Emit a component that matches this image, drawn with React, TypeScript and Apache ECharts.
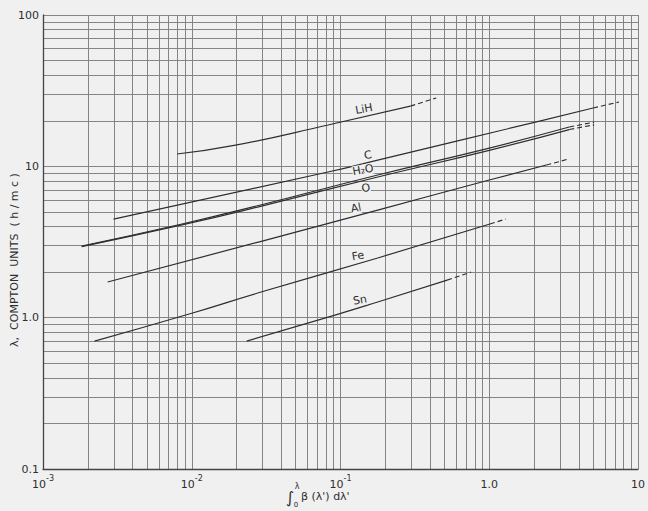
import React, { useEffect, useRef } from "react";
import * as echarts from "echarts";

// Tick values and labels (base, exponent)
const xTickValues = [0.001, 0.01, 0.1, 1, 10];
const xTickBases = ["10", "10", "10", "1.0", "10"];
const xTickExps = ["-3", "-2", "-1", "", ""];
const yTickValues = [0.1, 1, 10, 100];
const yTickLabels = ["0.1", "1.0", "10", "100"];

// Curves [x, y] (solid part) and dashed extrapolations
const lihSolid = [[0.00796, 12.06], [0.0197, 13.8], [0.0824, 18.75], [0.295, 25.0]];
const lihDashed = [[0.295, 25.0], [0.44, 28.3]];
const cSolid = [[0.00298, 4.48], [0.0824, 9.17], [0.178, 11.0], [2.18, 19.9], [4.99, 24.3]];
const cDashed = [[4.99, 24.3], [7.45, 26.6]];
const h2oSolid = [[0.00182, 2.97], [0.0086, 4.16], [0.0281, 5.51], [0.178, 8.76], [1.0, 13.2], [3.45, 18.2]];
const h2oDashed = [[3.45, 18.2], [5.07, 19.6]];
const oSolid = [[0.00182, 2.95], [0.0086, 4.1], [0.0281, 5.4], [0.178, 8.5], [1.0, 12.75], [3.45, 17.5]];
const oDashed = [[3.45, 17.5], [5.07, 18.8]];
const alSolid = [[0.00272, 1.72], [0.0281, 3.16], [0.178, 5.14], [1.0, 8.12], [2.42, 10.2]];
const alDashed = [[2.42, 10.2], [3.45, 11.2]];
const feSolid = [[0.00222, 0.7], [0.01, 1.07], [0.0281, 1.46], [0.178, 2.48], [1.01, 4.16]];
const feDashed = [[1.01, 4.16], [1.29, 4.48]];
const snSolid = [[0.0234, 0.7], [0.0918, 1.04], [0.178, 1.27], [0.521, 1.77]];
const snDashed = [[0.521, 1.77], [0.753, 2.0]];

const curveLabels = [
  { text: "LiH", x: 364, y: 109 },
  { text: "C", x: 368, y: 155 },
  { text: "H₂O", x: 363, y: 170 },
  { text: "O", x: 366, y: 188 },
  { text: "Al", x: 356, y: 208 },
  { text: "Fe", x: 358, y: 256 },
  { text: "Sn", x: 360, y: 300 },
];

const FONT = "DejaVu Sans";
const INK = "#2e2e2e";

function tickIndex(values: number[], v: number) {
  const lv = Math.log10(v);
  for (let i = 0; i < values.length; i++) {
    if (Math.abs(Math.log10(values[i]) - lv) < 1e-6) return i;
  }
  return -1;
}

export default function App() {
  const ref = useRef<HTMLDivElement>(null);
  useEffect(() => {
    if (!ref.current) return;
    const chart = echarts.init(ref.current, null, { renderer: "svg" });
    const solid = (data: number[][]) => ({
      type: "line",
      data,
      smooth: true,
      symbol: "none",
      silent: true,
      lineStyle: { color: INK, width: 1.2 },
    });
    const dashed = (data: number[][]) => ({
      type: "line",
      data,
      smooth: false,
      symbol: "none",
      silent: true,
      lineStyle: { color: INK, width: 1.1, type: [5, 3] },
    });
    const gridLine = { color: "#858585", width: 1 };
    chart.setOption({
      animation: false,
      backgroundColor: "#f0f0f0",
      grid: { left: 43, top: 15, right: 5, bottom: 42, containLabel: false },
      xAxis: {
        type: "log",
        logBase: 10,
        min: 0.001,
        max: 10,
        splitNumber: 4,
        axisLine: { show: true, lineStyle: { color: "#444", width: 1.3 } },
        axisTick: { show: false },
        axisLabel: {
          margin: 5,
          color: INK,
          fontFamily: FONT,
          fontSize: 11,
          formatter: (v: number) => {
            const i = tickIndex(xTickValues, v);
            if (i < 0) return "";
            return xTickExps[i]
              ? `{b|${xTickBases[i]}}{e|${xTickExps[i]}}`
              : `{b|${xTickBases[i]}}`;
          },
          rich: {
            b: { fontFamily: FONT, fontSize: 11, color: INK, lineHeight: 16, verticalAlign: "bottom" },
            e: { fontFamily: FONT, fontSize: 8, color: INK, lineHeight: 16, verticalAlign: "top" },
          },
        },
        splitLine: { show: true, lineStyle: gridLine },
        minorTick: { show: false, splitNumber: 9 },
        minorSplitLine: { show: true, lineStyle: gridLine },
      },
      yAxis: {
        type: "log",
        logBase: 10,
        min: 0.1,
        max: 100,
        splitNumber: 3,
        axisLine: { show: true, lineStyle: { color: "#444", width: 1.3 } },
        axisTick: { show: false },
        axisLabel: {
          margin: 4,
          color: INK,
          fontFamily: FONT,
          fontSize: 11,
          formatter: (v: number) => {
            const i = tickIndex(yTickValues, v);
            return i < 0 ? "" : yTickLabels[i];
          },
        },
        splitLine: { show: true, lineStyle: gridLine },
        minorTick: { show: false, splitNumber: 9 },
        minorSplitLine: { show: true, lineStyle: gridLine },
      },
      series: [
        solid(lihSolid), dashed(lihDashed),
        solid(cSolid), dashed(cDashed),
        solid(h2oSolid), dashed(h2oDashed),
        solid(oSolid), dashed(oDashed),
        solid(alSolid), dashed(alDashed),
        solid(feSolid), dashed(feDashed),
        solid(snSolid), dashed(snDashed),
      ],
      graphic: [
        ...curveLabels.map((l) => ({
          type: "text",
          x: l.x,
          y: l.y,
          rotation: 0.18,
          z: 10,
          style: {
            text: l.text,
            font: `11px "${FONT}"`,
            fill: INK,
            align: "center",
            verticalAlign: "middle",
            backgroundColor: "#f0f0f0",
          },
        })),
        {
          type: "text",
          x: 14,
          y: 260,
          rotation: Math.PI / 2,
          style: {
            text: "λ,  COMPTON  UNITS  ( h / m c )",
            font: `11px "${FONT}"`,
            fill: INK,
            align: "center",
            verticalAlign: "middle",
          },
        },
        {
          type: "text",
          x: 290,
          y: 497,
          style: { text: "∫", font: `16px "${FONT}"`, fill: INK, align: "center", verticalAlign: "middle" },
        },
        {
          type: "text",
          x: 297,
          y: 486,
          style: { text: "λ", font: `8px "${FONT}"`, fill: INK, align: "center", verticalAlign: "middle" },
        },
        {
          type: "text",
          x: 296,
          y: 505,
          style: { text: "0", font: `7px "${FONT}"`, fill: INK, align: "center", verticalAlign: "middle" },
        },
        {
          type: "text",
          x: 301,
          y: 496,
          style: { text: "β (λ') dλ'", font: `11px "${FONT}"`, fill: INK, align: "left", verticalAlign: "middle" },
        },
      ],
    });
    return () => chart.dispose();
  }, []);
  return (
    <div
      ref={ref}
      style={{ position: "fixed", left: 0, top: 0, width: 648, height: 511 }}
    />
  );
}
